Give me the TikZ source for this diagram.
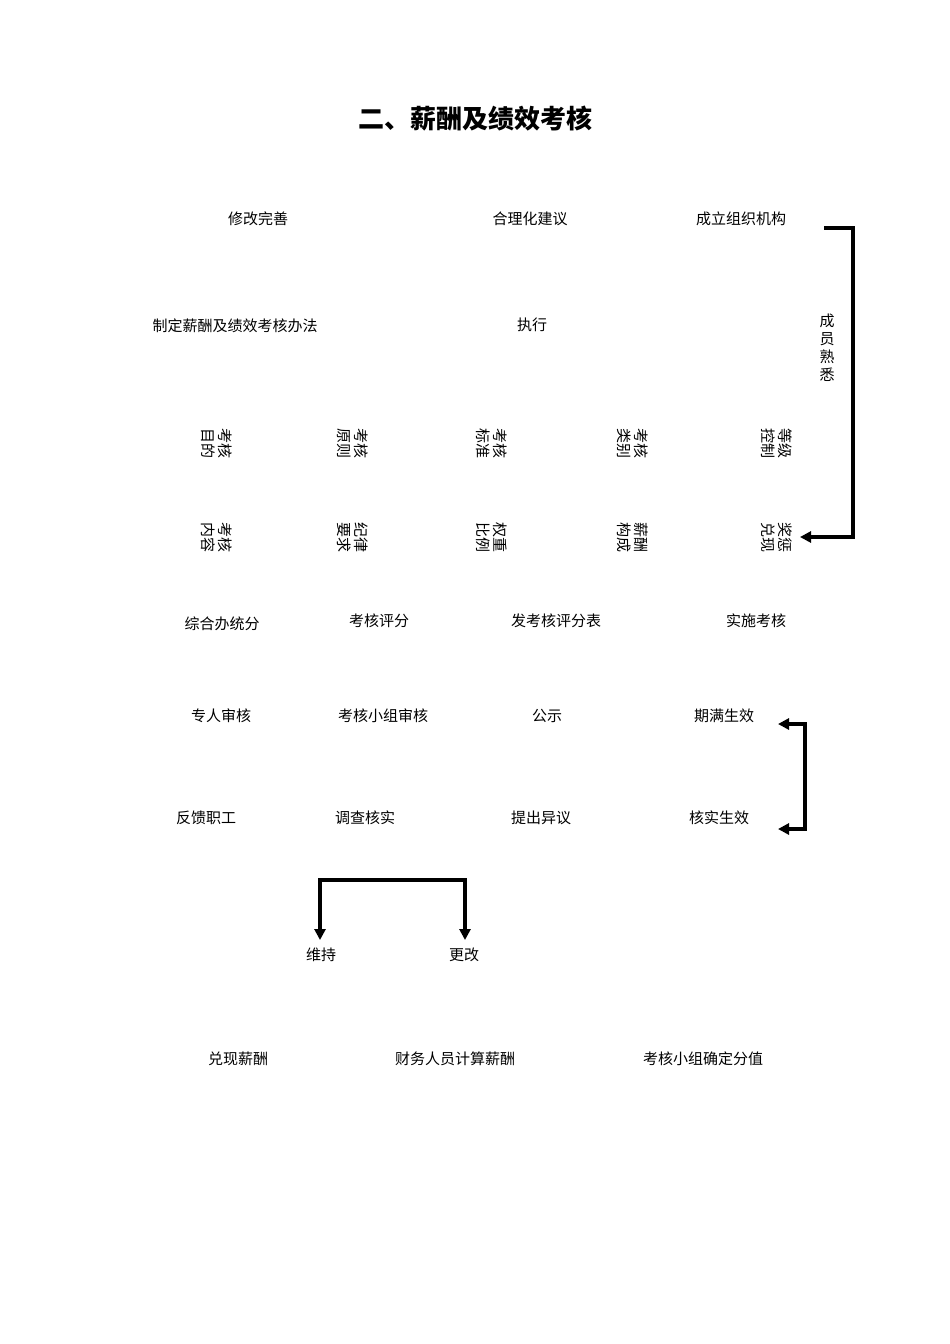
\documentclass[tikz,border=0pt]{standalone}
\usepackage{fontspec}
\newfontfamily\cjk{Noto Sans CJK SC}
\usetikzlibrary{arrows.meta}
\begin{document}
\begin{tikzpicture}[x=1pt,y=-1pt,
  t/.style={font=\cjk\fontsize{15}{18}\selectfont,inner sep=0pt},
  v/.style={font=\cjk\fontsize{15}{17}\selectfont,inner sep=0pt,rotate=-90,align=center},
  br/.style={line width=3.5pt,-{Triangle[length=11pt,width=11pt]}}]
\useasboundingbox (0,0) rectangle (950,1344);
\node[font=\cjk\bfseries\fontsize{26}{30}\selectfont] (title) at (475,119) {二、薪酬及绩效考核};
\node[t] (a1) at (258,219) {修改完善};
\node[t] (a2) at (530,219) {合理化建议};
\node[t] (a3) at (741,219) {成立组织机构};
\node[t] (b1) at (235,326) {制定薪酬及绩效考核办法};
\node[t] (b2) at (532,325) {执行};
\node[t,align=center] (cy) at (827,348) {成\\员\\熟\\悉};
\node[v] (c1) at (217,443) {考核\\目的};
\node[v] (c2) at (353,443) {考核\\原则};
\node[v] (c3) at (492,443) {考核\\标准};
\node[v] (c4) at (633,443) {考核\\类别};
\node[v] (c5) at (777,443) {等级\\控制};
\node[v] (d1) at (217,537) {考核\\内容};
\node[v] (d2) at (353,537) {纪律\\要求};
\node[v] (d3) at (492,537) {权重\\比例};
\node[v] (d4) at (633,537) {薪酬\\构成};
\node[v] (d5) at (777,537) {奖惩\\兑现};
\node[t] (e1) at (222,624) {综合办统分};
\node[t] (e2) at (379,621) {考核评分};
\node[t] (e3) at (556,621) {发考核评分表};
\node[t] (e4) at (756,621) {实施考核};
\node[t] (f1) at (221,716) {专人审核};
\node[t] (f2) at (383,716) {考核小组审核};
\node[t] (f3) at (547,716) {公示};
\node[t] (f4) at (724,716) {期满生效};
\node[t] (g1) at (206,818) {反馈职工};
\node[t] (g2) at (365,818) {调查核实};
\node[t] (g3) at (541,818) {提出异议};
\node[t] (g4) at (719,818) {核实生效};
\node[t] (h1) at (321,955) {维持};
\node[t] (h2) at (464,955) {更改};
\node[t] (i1) at (238,1059) {兑现薪酬};
\node[t] (i2) at (455,1059) {财务人员计算薪酬};
\node[t] (i3) at (703,1059) {考核小组确定分值};
\coordinate (p1) at (824,228);
\coordinate (p2) at (853,228);
\coordinate (p3) at (853,537);
\coordinate (p4) at (800,537);
\coordinate (q1) at (805,724);
\coordinate (q2) at (805,829);
\coordinate (q3) at (778,724);
\coordinate (q4) at (778,829);
\coordinate (r1) at (320,880);
\coordinate (r2) at (465,880);
\coordinate (r3) at (320,940);
\coordinate (r4) at (465,940);
\draw[br] (p1) -- (p2) -- (p3) -- (p4);
\draw[br] (q2) -- (q1) -- (q3);
\draw[br] (q1) -- (q2) -- (q4);
\draw[br] (r2) -- (r1) -- (r3);
\draw[br] (r1) -- (r2) -- (r4);
\end{tikzpicture}
\end{document}
